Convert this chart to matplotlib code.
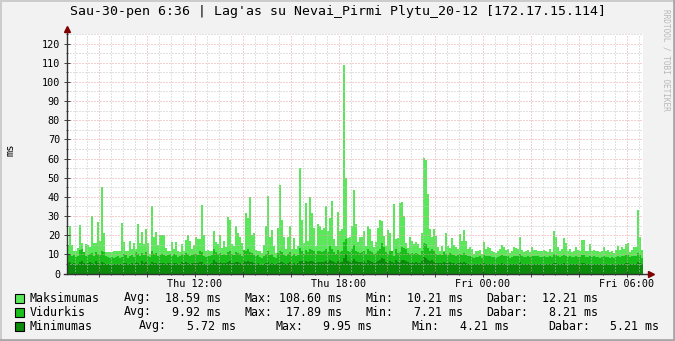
import numpy as np
import matplotlib
matplotlib.use("Agg")
import matplotlib.pyplot as plt
from matplotlib.patches import Rectangle
from matplotlib.ticker import MultipleLocator, FuncFormatter

# 5-minute samples, Thu 06:40 -> Fri 06:40 (288 values each)
max_ms = [
    14.5, 25, 15, 12, 12, 13.5, 25.5, 16, 11, 15.5, 15, 14, 30, 16, 16, 27, 17, 45, 21, 11, 11, 11, 11, 12,
    12, 12, 12, 26.5, 16.5, 12, 12, 17, 13, 16, 13, 26, 16, 21.5, 15.5, 23, 16, 10.2, 35, 19, 21.5, 15, 20, 20,
    20, 13.5, 12, 12, 16.5, 13, 16.5, 12, 11, 15.5, 11.5, 17.5, 20, 17, 13, 15, 19, 18, 18, 36, 20, 12, 12.5, 12,
    12, 22, 16.5, 15.5, 20, 13.5, 17, 14, 29.5, 28, 15.5, 14.5, 25, 21, 19, 16, 10.5, 31.5, 29, 40, 20, 21, 12.5, 12,
    12, 10.5, 15, 25, 40.7, 19, 22.5, 14.6, 10.5, 23.6, 46, 28, 19, 13, 19, 25, 13, 18.6, 13, 14.6, 55, 28, 16, 36.7,
    17, 39.8, 31.5, 23.6, 14.6, 25.6, 24.7, 22.8, 24, 35, 22.4, 29, 38, 18, 14.6, 32, 22, 23.3, 108.6, 49.7, 18.4, 19, 24.7, 43.6,
    26, 16.3, 19, 19.3, 22, 14.6, 25, 23.3, 17.2, 14, 16.3, 23.8, 28, 27.6, 19.8, 14.6, 22.8, 21, 10.3, 36.3, 18, 18.4, 36.9, 37.2,
    30, 15.8, 13.4, 19.3, 17.2, 15.5, 16.7, 15.5, 13.2, 21, 60.4, 59, 41.6, 23.3, 19, 23.3, 19.8, 13.7, 12, 14.6, 12, 21, 14.6, 13.4,
    18.6, 15, 13.7, 12.9, 20.7, 16.9, 22.8, 17.2, 12.9, 14, 12.9, 10.3, 12, 11.6, 12.3, 10.3, 16.3, 12.9, 14, 13.2, 11.5, 11.1, 10.8, 12,
    12.9, 15, 13.7, 12.3, 12.9, 10.8, 12, 14, 13.4, 12.9, 19.3, 12.3, 11.1, 11.6, 12.3, 11.1, 13.7, 12.3, 12.3, 12, 12, 11.6, 12.3, 11.6,
    11.1, 12.9, 11.1, 22.4, 19.3, 14, 12, 12.9, 18.4, 15.8, 12, 12.9, 11.1, 12, 13.7, 12.3, 12, 17.6, 17.7, 12, 11.6, 15.5, 11.6, 12.3,
    12, 11.6, 11.1, 12, 14, 12, 12.3, 11.1, 11.6, 10.6, 12.3, 14.6, 12.3, 14, 12.9, 15.5, 15.8, 11.1, 12.3, 13.7, 14, 32.9, 19.3, 12.2,
]
avg_ms = [
    9.5, 10, 9, 9.5, 8.5, 9, 12.5, 13, 11, 9, 9.5, 10, 10.5, 9, 11, 10, 9.5, 12, 11, 9, 8.5, 8, 8.5, 8,
    8.5, 9, 8, 8.5, 10, 9.5, 8, 9, 9.5, 8.5, 11, 10, 9, 10.5, 9.5, 11, 9, 8.5, 12, 10, 10.5, 9, 9.5, 10,
    9.5, 9, 9.5, 10, 9, 10, 9.5, 8.5, 9, 10, 9.5, 10.5, 10, 9, 9.5, 10, 10, 9.5, 12, 11, 9, 8.5, 9, 9,
    9.5, 13, 11, 10, 10.5, 9.5, 10, 9.5, 11, 11.5, 10, 9.5, 11, 10.5, 10, 9, 12.5, 11.5, 13, 11, 10.5, 9.5, 9, 9.5,
    8.5, 8, 9, 10, 12, 9.5, 10, 8.5, 8, 10.5, 11.5, 11, 9.5, 9, 10, 11, 9, 10, 9, 9.5, 13.5, 12, 10, 12.5,
    11, 13, 12.5, 12, 10, 12, 11.5, 11, 11.5, 13, 11, 14.5, 13, 11, 10, 12.5, 11, 11.5, 16.5, 17.9, 12, 11, 13, 15,
    12, 11, 10.5, 11, 11.5, 10, 13, 12, 11, 10, 10.5, 12, 13, 16, 14, 11, 10, 12, 11.5, 9, 13, 10.5, 11, 14,
    13.5, 13, 10.5, 10, 10.5, 10, 10.5, 10, 9.5, 12, 16, 15.5, 13.5, 12, 13, 11.5, 10, 9.5, 10, 9.5, 11, 10, 9.5, 10.5,
    10, 9.5, 9, 9.5, 10, 9.5, 10.5, 9.5, 9, 9, 8.5, 8, 8.5, 8.5, 9, 8, 9.5, 9, 9, 9, 8.5, 8.5, 8, 8.5,
    9, 9.5, 9, 9, 9, 8, 8.5, 9, 9, 9, 10, 9, 8.5, 8.5, 9, 8.5, 9, 9, 9, 9, 8.5, 8.5, 9, 8.5,
    8.5, 9, 8.5, 10, 9.5, 9, 8.5, 9, 9.5, 9, 8.5, 9, 8.5, 8.5, 9, 8.5, 8.5, 9.5, 9.5, 8.5, 8.5, 9, 8.5, 9,
    8.5, 8.5, 8, 8.5, 9, 8.5, 8.5, 8, 8.5, 8, 8.5, 9, 8.5, 9, 9, 9.5, 9.5, 8.5, 9, 9, 9, 10.5, 9.5, 8.2,
]
min_ms = [
    5.5, 6, 5, 5.5, 5, 5, 6, 6.5, 5.5, 5, 5.5, 6, 5.5, 5, 6.5, 5.5, 5, 6, 5.5, 5, 4.8, 4.5, 5, 4.8,
    5, 5.2, 4.8, 5, 5.5, 5.5, 5, 5.2, 5.5, 5, 6, 5.5, 5, 6.5, 5.5, 6, 5, 5, 6, 5.5, 5.5, 5, 5.5, 5.5,
    5.5, 5, 5.5, 5.5, 5, 5.5, 5.5, 5, 5, 6, 5.5, 6, 5.5, 5, 5.5, 5.5, 5.5, 5.5, 6, 6, 5, 5, 5, 5,
    5.5, 7, 6, 5.5, 6, 5.5, 5.5, 5.5, 6, 6.5, 5.5, 5.5, 6, 6, 5.5, 5, 6.5, 6, 6.5, 6, 6, 5.5, 5, 5.5,
    5, 4.5, 5, 5.5, 6, 5, 5.5, 5, 4.8, 5.5, 6, 6, 5.5, 5, 5.5, 6, 5, 5.5, 5, 5.5, 6.5, 6.5, 5.5, 6.5,
    6, 6.5, 6.5, 6, 5.5, 6, 6, 6, 6, 6.5, 6, 7, 6.5, 6, 5.5, 6.5, 6, 6, 8, 9.95, 6.5, 6, 6.5, 7.5,
    6.5, 6, 6, 6, 6.5, 5.5, 7, 6.5, 6, 5.5, 6, 6.5, 7, 8, 7.5, 6, 5.5, 6.5, 6, 5.5, 7, 6, 6, 7,
    7, 6.5, 6, 5.5, 6, 5.5, 6, 5.5, 5.5, 6.5, 8.5, 8, 7, 6.5, 7, 6, 5.5, 5.5, 5.5, 5.5, 6, 5.5, 5.5, 6,
    5.5, 5.5, 5.2, 5.5, 5.8, 5.5, 6, 5.5, 5.2, 5.2, 5, 4.8, 5, 5, 5.2, 4.8, 5.5, 5.2, 5.2, 5.2, 5, 5, 4.8, 5,
    5.2, 5.5, 5.2, 5.2, 5.2, 4.8, 5, 5.2, 5.2, 5.2, 5.8, 5.2, 5, 5, 5.2, 5, 5.2, 5.2, 5.2, 5.2, 5, 5, 5.2, 5,
    5, 5.2, 5, 5.5, 5.5, 5.2, 5, 5.2, 5.5, 5.2, 5, 5.2, 5, 5, 5.2, 5, 5, 5.5, 5.5, 5, 5, 5.2, 5, 5.2,
    5, 5, 4.8, 5, 5.2, 5, 5, 4.2, 5, 4.8, 5, 5.2, 5, 5.2, 5.2, 5.5, 5.5, 5, 5.2, 5.2, 5.2, 6, 5.5, 5.2,
]

series_names = ["Maksimumas", "Vidurkis", "Minimumas"]
series_colors = ["#5AE85A", "#1BBF1B", "#0B8A0B"]
stat_avg = ["18.59 ms", "9.92 ms", "5.72 ms"]
stat_max = ["108.60 ms", "17.89 ms", "9.95 ms"]
stat_min = ["10.21 ms", "7.21 ms", "4.21 ms"]
stat_cur = ["12.21 ms", "8.21 ms", "5.21 ms"]

title = "Sau-30-pen 6:36 | Lag'as su Nevai_Pirmi Plytu_20-12 [172.17.15.114]"
start_h = 6 + 40 / 60.0          # hours since Thu 00:00
step_h = 5 / 60.0
tick_names = {12: "Thu 12:00", 18: "Thu 18:00", 24: "Fri 00:00", 30: "Fri 06:00"}

W, H = 675, 341
mono = "DejaVu Sans Mono"

fig = plt.figure(figsize=(W / 100, H / 100), dpi=100, facecolor="#F2F2F2")
ax = fig.add_axes([67 / W, (H - 273.5) / H, 576 / W, (273.5 - 34) / H])
ax.set_facecolor("white")

edges = start_h + np.arange(len(max_ms) + 1) * step_h
for vals, col in zip([max_ms, avg_ms, min_ms], series_colors):
    ax.stairs(vals, edges, fill=True, color=col, linewidth=0, zorder=1)

ax.set_xlim(start_h, start_h + 24)
ax.set_ylim(0, 125)

# grid on top like rrdtool
ax.xaxis.set_major_locator(MultipleLocator(2))
ax.xaxis.set_minor_locator(MultipleLocator(0.5))
ax.yaxis.set_major_locator(MultipleLocator(10))
ax.yaxis.set_minor_locator(MultipleLocator(5))
ax.grid(which="minor", color="#C4C4C4", linestyle=(0, (1, 2)), linewidth=0.72, zorder=3)
ax.grid(which="major", color="#E8A0A0", linestyle=(0, (1, 2)), linewidth=0.72, zorder=3)
ax.set_axisbelow(False)

ax.xaxis.set_major_formatter(FuncFormatter(lambda v, p: tick_names.get(int(round(v)), "") if abs(v - round(v)) < 1e-6 and int(round(v)) % 6 == 0 else ""))
ax.yaxis.set_major_formatter(FuncFormatter(lambda v, p: "%d" % v if v <= 120 else ""))

for s in ax.spines.values():
    s.set_visible(False)
ax.tick_params(which="both", colors="#404040", labelcolor="black", labelsize=7.3, width=0.7)
ax.tick_params(axis="y", which="major", direction="inout", length=4, pad=3)
ax.tick_params(axis="y", which="minor", direction="inout", length=2)
ax.tick_params(axis="x", which="major", direction="inout", length=4, pad=2)
ax.tick_params(axis="x", which="minor", direction="inout", length=2)
for lab in ax.get_xticklabels() + ax.get_yticklabels():
    lab.set_family(mono)

# axes with arrows
ax.plot([0, 0], [0, 1.02], transform=ax.transAxes, color="#333333", lw=1, clip_on=False, zorder=5)
ax.plot([-0.005, 1.012], [0, 0], transform=ax.transAxes, color="#333333", lw=1, clip_on=False, zorder=5)
ax.plot([0], [1.022], marker="^", markersize=4.5, color="#7F0000", transform=ax.transAxes, clip_on=False, zorder=6)
ax.plot([1.014], [0], marker=">", markersize=4.5, color="#7F0000", transform=ax.transAxes, clip_on=False, zorder=6)

fig.text(0.5, 1 - 12 / H, title, ha="center", va="center", family=mono, fontsize=9.5)
fig.text(10 / W, 1 - 150 / H, "ms", rotation=90, ha="center", va="center", family=mono, fontsize=7.5)
fig.text(666 / W, 1 - 60 / H, "RRDTOOL / TOBI OETIKER", rotation=270, ha="center", va="center",
         family=mono, fontsize=5.6, color="#B8B8B8")

# legend rows
rows_y = [298, 312, 326]
lab_x = [[124, 244.5, 365, 486], [124, 244.5, 365, 486], [139, 275, 411, 548]]
val_x = [[221, 342, 463, 598], [221, 342, 463, 598], [236, 372, 509, 659]]
keys = ["Avg:", "Max:", "Min:", "Dabar:"]
for i, name in enumerate(series_names):
    yy = 1 - rows_y[i] / H
    fig.add_artist(Rectangle((15 / W, (H - rows_y[i] - 4.5) / H), 9 / W, 9 / H, transform=fig.transFigure,
                             facecolor=series_colors[i], edgecolor="black", linewidth=0.8))
    fig.text(30 / W, yy, name, ha="left", va="center", family=mono, fontsize=8.4)
    vals = [stat_avg[i], stat_max[i], stat_min[i], stat_cur[i]]
    for k in range(4):
        fig.text(lab_x[i][k] / W, yy, keys[k], ha="left", va="center", family=mono, fontsize=8.4)
        fig.text(val_x[i][k] / W, yy, vals[k], ha="right", va="center", family=mono, fontsize=8.4)

# frame shading
fig.add_artist(plt.Line2D([0, 1], [1 - 1 / H, 1 - 1 / H], transform=fig.transFigure, color="#CBCBCB", lw=1.4))
fig.add_artist(plt.Line2D([1 / W, 1 / W], [0, 1], transform=fig.transFigure, color="#CBCBCB", lw=1.4))
fig.add_artist(plt.Line2D([0, 1], [1.5 / H, 1.5 / H], transform=fig.transFigure, color="#A8A8A8", lw=2))
fig.add_artist(plt.Line2D([1 - 1.5 / W, 1 - 1.5 / W], [0, 1], transform=fig.transFigure, color="#A8A8A8", lw=2))

fig.savefig("out.png", dpi=100, facecolor=fig.get_facecolor())
